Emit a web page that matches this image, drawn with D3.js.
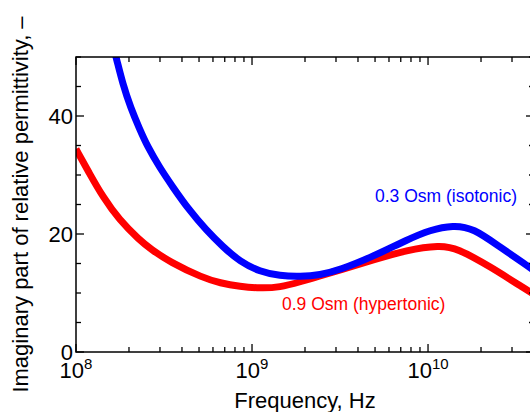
<!DOCTYPE html>
<html>
<head>
<meta charset="utf-8">
<script src="https://cdn.jsdelivr.net/npm/d3@7"></script>
<style>
  body { margin: 0; background: #fff; }
  svg { font-family: "Liberation Sans", Arial, sans-serif; }
</style>
</head>
<body>
<svg width="530" height="412"></svg>
<script>
// frequencies in Hz
var isoFreq = [1.60e8, 1.70e8, 1.84e8, 2.05e8, 2.29e8, 2.55e8, 2.97e8, 3.54e8, 4.41e8, 5.48e8, 6.82e8, 8.55e8,
               1.11e9, 1.44e9, 1.88e9, 2.43e9, 3.16e9, 4.88e9, 7.57e9, 1.03e10, 1.39e10, 1.81e10, 2.56e10, 3.64e10, 4.0e10];
var isoEps  = [52.6, 49.7, 45.5, 41.3, 37.9, 34.8, 31.4, 28.0, 24.0, 20.7, 17.85, 15.3,
               13.6, 12.9, 12.77, 13.05, 13.9, 16.2, 19.0, 20.7, 21.5, 21.0, 17.8, 14.7, 13.8];

var hyperFreq = [1.0e8, 1.19e8, 1.42e8, 1.76e8, 2.29e8, 2.67e8, 3.42e8, 5.27e8, 6.58e8, 8.55e8,
                 1.11e9, 1.44e9, 1.88e9, 2.43e9, 3.16e9, 4.89e9, 7.57e9, 1.17e10, 1.46e10, 2.25e10, 3.64e10, 4.0e10];
var hyperEps  = [34.4, 30.3, 26.3, 22.4, 19.0, 17.4, 15.25, 12.55, 11.7, 11.1,
                 10.8, 10.95, 11.9, 12.9, 13.9, 15.6, 17.3, 18.1, 17.6, 14.5, 10.5, 9.8];

var xMajor = [1e8, 1e9, 1e10];
var xExp = ["8", "9", "10"];
var yMajor = [0, 20, 40];
var yMinor = [5, 10, 15, 25, 30, 35, 45, 50];

var svg = d3.select("svg");
var pL = 76, pR = 534, pT = 57, pB = 352;

var x = d3.scaleLog().domain([1e8, 4e10]).range([pL, pR]);
var y = d3.scaleLinear().domain([0, 50]).range([pB, pT]);

var xMinor = [];
[1e8, 1e9, 1e10].forEach(function(d) {
    for (var k = 2; k <= 9; k++) if (d * k <= 4e10) xMinor.push(d * k);
});

svg.append("clipPath").attr("id", "plot")
    .append("rect")
    .attr("x", pL).attr("y", pT)
    .attr("width", pR - pL).attr("height", pB - pT);

var line = d3.line()
    .x(function(d) { return x(d[0]); })
    .y(function(d) { return y(d[1]); })
    .curve(d3.curveBasis);

var g = svg.append("g").attr("clip-path", "url(#plot)");
g.append("path")
    .datum(d3.zip(hyperFreq, hyperEps))
    .attr("d", line)
    .attr("fill", "none")
    .attr("stroke", "#ff0000")
    .attr("stroke-width", 7)
    .attr("stroke-linejoin", "round");
g.append("path")
    .datum(d3.zip(isoFreq, isoEps))
    .attr("d", line)
    .attr("fill", "none")
    .attr("stroke", "#0000ff")
    .attr("stroke-width", 7)
    .attr("stroke-linejoin", "round");

// frame
svg.append("rect")
    .attr("x", pL).attr("y", pT)
    .attr("width", pR - pL).attr("height", pB - pT)
    .attr("fill", "none").attr("stroke", "#000").attr("stroke-width", 1.5);

// inward ticks on all four sides
function xTicks(vals, len) {
    svg.selectAll(null).data(vals).enter().append("line")
        .attr("x1", d => x(d)).attr("x2", d => x(d))
        .attr("y1", pB).attr("y2", pB - len)
        .attr("stroke", "#000").attr("stroke-width", 1.3);
    svg.selectAll(null).data(vals).enter().append("line")
        .attr("x1", d => x(d)).attr("x2", d => x(d))
        .attr("y1", pT).attr("y2", pT + len)
        .attr("stroke", "#000").attr("stroke-width", 1.3);
}
function yTicks(vals, len) {
    svg.selectAll(null).data(vals).enter().append("line")
        .attr("x1", pL).attr("x2", pL + len)
        .attr("y1", d => y(d)).attr("y2", d => y(d))
        .attr("stroke", "#000").attr("stroke-width", 1.3);
    svg.selectAll(null).data(vals).enter().append("line")
        .attr("x1", pR).attr("x2", pR - len)
        .attr("y1", d => y(d)).attr("y2", d => y(d))
        .attr("stroke", "#000").attr("stroke-width", 1.3);
}
xTicks(xMajor, 8);
xTicks(xMinor, 5);
yTicks(yMajor, 8);
yTicks(yMinor, 5);

// y tick labels
svg.selectAll(null).data(yMajor).enter().append("text")
    .attr("x", pL - 3)
    .attr("y", d => y(d))
    .attr("dy", "0.35em")
    .attr("text-anchor", "end")
    .attr("font-size", 22)
    .text(d => d);

// x tick labels 10^n
var xl = svg.selectAll(null).data(xMajor).enter().append("text")
    .attr("x", d => x(d))
    .attr("y", 378)
    .attr("text-anchor", "middle")
    .attr("font-size", 22);
xl.append("tspan").text("10");
xl.append("tspan").attr("dy", -9).attr("font-size", 15).text((d, i) => xExp[i]);

// axis titles
svg.append("text")
    .attr("x", (pL + pR) / 2)
    .attr("y", 408)
    .attr("text-anchor", "middle")
    .attr("font-size", 22)
    .text("Frequency, Hz");
svg.append("text")
    .attr("transform", "translate(28," + ((pT + pB) / 2) + ") rotate(-90)")
    .attr("text-anchor", "middle")
    .attr("font-size", 22)
    .text("Imaginary part of relative permittivity, \u2013");

// series labels
svg.append("text")
    .attr("x", 375).attr("y", 202)
    .attr("font-size", 17.5)
    .attr("fill", "#0000ff")
    .text("0.3 Osm (isotonic)");
svg.append("text")
    .attr("x", 282).attr("y", 310)
    .attr("font-size", 17.5)
    .attr("fill", "#ff0000")
    .text("0.9 Osm (hypertonic)");
</script>
</body>
</html>
